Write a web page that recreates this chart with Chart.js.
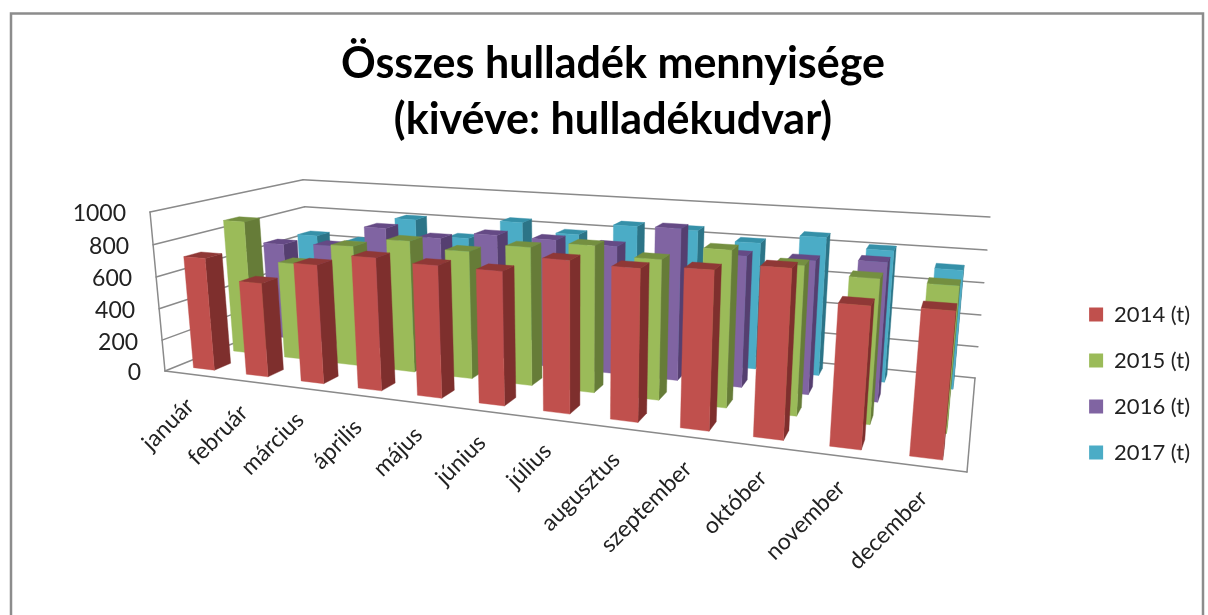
<!DOCTYPE html>
<html><head><meta charset="utf-8">
<style>html,body{margin:0;padding:0;background:#fff}canvas{display:block}</style>
<script src="https://cdn.jsdelivr.net/npm/chart.js@4"></script></head>
<body><canvas id="c" width="1208" height="615"></canvas>
<script>
const categories = ['január','február','március','április','május','június','július','augusztus','szeptember','október','november','december'];
const titleLines = ['Összes hulladék mennyisége','(kivéve: hulladékudvar)'];
const seriesNames = ['2014 (t)','2015 (t)','2016 (t)','2017 (t)'];
const values2014 = [712,587,728,799,783,780,870,855,876,915,755,764];
const values2015 = [874,627,767,826,789,841,878,826,907,850,808,801];
const values2016 = [656,671,815,774,820,815,802,935,798,799,818,null];
const values2017 = [647,627,809,705,837,782,860,858,804,865,811,723];
const front = ['#C0504D','#9BBB59','#8064A2','#4BACC6'];
const side  = ['#7E2F2D','#667C38','#553F70','#2C7487'];
const top3d = ['#8F3836','#748F40','#654A85','#3590A8'];
const wall = '#8A8A8A';
const textCol = '#222222';
const FONT = 'Lato';

// Projective frame of the 3D box: floor quad (front-left, front-right, back-right, back-left),
// the vanishing point of the verticals, and the height of the front-left wall edge.
const floorQuad = [[165,371],[967,472],[975,378],[311,312]];
const vanish = [574,4708];
const frontLeftTopY = 212;
function homog(q){
  const [p0,p1,p2,p3]=q;
  const dx1=p1[0]-p2[0],dx2=p3[0]-p2[0],sx=p0[0]-p1[0]+p2[0]-p3[0];
  const dy1=p1[1]-p2[1],dy2=p3[1]-p2[1],sy=p0[1]-p1[1]+p2[1]-p3[1];
  const d=dx1*dy2-dx2*dy1;
  const g=(sx*dy2-dx2*sy)/d,h=(dx1*sy-sx*dy1)/d;
  const a=p1[0]-p0[0]+g*p1[0],b=p3[0]-p0[0]+h*p3[0],c=p0[0];
  const e=p1[1]-p0[1]+g*p1[1],f=p3[1]-p0[1]+h*p3[1],k=p0[1];
  return (u,v)=>[a*u+b*v+c,e*u+f*v+k,g*u+h*v+1];
}
const hf=homog(floorQuad);
const J=(floorQuad[0][1]-frontLeftTopY)/(frontLeftTopY-vanish[1]);
function proj(u,v,h){const p=hf(u,v),j=J*h;const w=p[2]+j;return [(p[0]+j*vanish[0])/w,(p[1]+j*vanish[1])/w];}
function poly(ctx,pts,col){ctx.beginPath();pts.forEach((p,i)=>i?ctx.lineTo(p[0],p[1]):ctx.moveTo(p[0],p[1]));ctx.closePath();ctx.fillStyle=col;ctx.fill();ctx.strokeStyle=col;ctx.lineWidth=.4;ctx.stroke();}
function seg(ctx,a,b){ctx.beginPath();ctx.moveTo(a[0],a[1]);ctx.lineTo(b[0],b[1]);ctx.stroke();}
const norm=(chart,val)=>{const y=chart.scales.y;return (y.bottom-y.getPixelForValue(val))/(y.bottom-y.top);};

const box3d={
  id:'box3d',
  afterLayout(chart){const l=chart.legend;if(l){l.top+=58;l.bottom+=58;}},
  beforeDraw(chart){
    const c=chart.ctx;c.save();c.fillStyle='#fff';c.fillRect(0,0,chart.width,chart.height);
    c.strokeStyle='#8c8c8c';c.lineWidth=2.5;c.beginPath();c.moveTo(11,615);c.lineTo(11,13.5);c.lineTo(1203,13.5);c.lineTo(1203,615);c.stroke();c.restore();
  },
  beforeDatasetsDraw(chart){
    const c=chart.ctx,y=chart.scales.y,x=chart.scales.x;c.save();
    c.strokeStyle=wall;c.lineWidth=1.5;c.lineCap='round';
    y.ticks.forEach(t=>{const h=norm(chart,t.value);
      seg(c,proj(0,0,h),proj(0,1,h));seg(c,proj(0,1,h),proj(1,1,h));});
    seg(c,proj(0,0,0),proj(0,0,1));seg(c,proj(0,0,0),proj(1,0,0));seg(c,proj(1,0,0),proj(1,1,0));
    c.fillStyle=textCol;c.font='23px '+FONT;c.textAlign='right';c.textBaseline='middle';
    y.ticks.forEach(t=>{const p=proj(0,0,norm(chart,t.value));c.fillText(String(t.value),p[0]-24,p[1]+2);});
    categories.forEach((lab,i)=>{const u=(x.getPixelForValue(i)-x.left)/x.width;const p=proj(u,0,0);
      c.save();c.translate(p[0]-1,p[1]+28);c.rotate(-Math.PI/4);c.textAlign='right';c.textBaseline='middle';c.fillText(lab,0,0);c.restore();});
    c.restore();
  },
  beforeDatasetDraw(chart,args){
    const c=chart.ctx,x=chart.scales.x,meta=args.meta,r=args.index,n=chart.data.datasets.length;
    const cell=x.width/categories.length;
    const v0=(r+.3)/n,v1=(r+.7)/n;
    c.save();
    meta.data.forEach((el,i)=>{
      const ds=chart.data.datasets[r],val=ds.data[i];
      if(val===null)return;
      const cx=x.getPixelForValue(i);
      const u0=(cx-.2*cell-x.left)/x.width,u1=(cx+.2*cell-x.left)/x.width;
      const h=norm(chart,val);
      const a=proj(u0,v0,0),b=proj(u1,v0,0),bb=proj(u1,v1,0);
      const t=proj(u0,v0,h),tr=proj(u1,v0,h),trb=proj(u1,v1,h),tb=proj(u0,v1,h);
      poly(c,[b,bb,trb,tr],side[r]);
      poly(c,[t,tr,trb,tb],top3d[r]);
      poly(c,[a,b,tr,t],front[r]);
    });
    c.restore();
    return false;
  }
};

new Chart(document.getElementById('c'),{
  type:'bar',
  plugins:[box3d],
  data:{labels:categories,datasets:[values2014,values2015,values2016,values2017].map((d,i)=>({label:seriesNames[i],data:d,backgroundColor:front[i],borderWidth:0,clip:false}))},
  options:{
    responsive:false,animation:false,
    layout:{padding:{left:26,right:8,top:36,bottom:0}},
    scales:{
      x:{grid:{display:false},border:{display:false},ticks:{display:false},afterFit(s){s.height=240;}},
      y:{min:0,max:1000,grid:{display:false},border:{display:false},ticks:{display:false,stepSize:200}}
    },
    plugins:{
      tooltip:{enabled:false},
      title:{display:true,text:titleLines,color:'#000',font:{family:FONT,size:43,weight:'bold',lineHeight:1.3},padding:{top:0,bottom:20}},
      legend:{position:'right',labels:{color:textCol,font:{family:FONT,size:22},boxWidth:14,boxHeight:14,padding:24}}
    }
  }
});
</script></body></html>
